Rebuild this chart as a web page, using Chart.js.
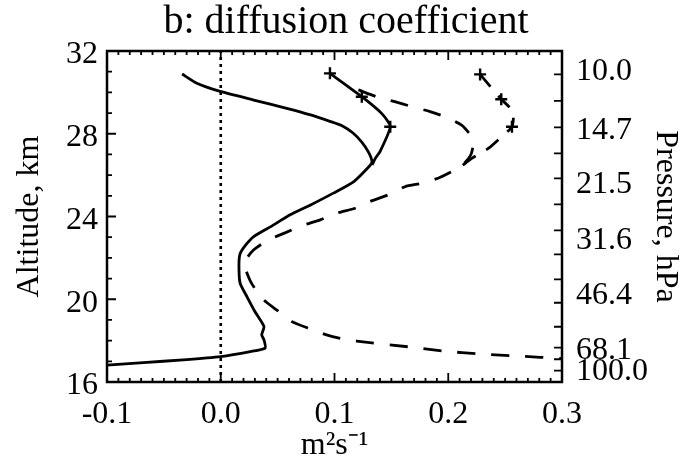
<!DOCTYPE html>
<html>
<head>
<meta charset="utf-8">
<script src="https://cdn.jsdelivr.net/npm/chart.js@4.4.1/dist/chart.umd.min.js"></script>
<style>
  html, body { margin: 0; padding: 0; background: #fff; }
</style>
</head>
<body>
<canvas id="chart" width="692" height="462"></canvas>
<script>
// solid profile: diffusion coefficient (m2/s) vs altitude (km)
const solidK = [-0.034, -0.021, -0.002, 0.029, 0.058, 0.079, 0.096, 0.107, 0.116, 0.124, 0.130, 0.133, 0.131,
  0.117, 0.099, 0.079, 0.061, 0.044, 0.029, 0.022, 0.017, 0.016, 0.017, 0.023, 0.030, 0.038, 0.036,
  0.038, 0.039, 0.026, 0.000, -0.033, -0.068, -0.1];
const solidAlt = [30.89, 30.44, 30.07, 29.63, 29.23, 28.91, 28.60, 28.38, 28.05, 27.60, 27.10, 26.65, 26.45,
  25.69, 25.13, 24.56, 24.08, 23.51, 23.03, 22.63, 22.20, 21.66, 20.78, 20.13, 19.41, 18.68, 18.28,
  18.04, 17.64, 17.47, 17.23, 17.07, 16.94, 16.82];

// solid profile, upper branch with measurement marks
const solidTopK = [0.096, 0.124, 0.142, 0.149, 0.140, 0.136, 0.133];
const solidTopAlt = [30.92, 29.79, 28.95, 28.34, 27.14, 26.82, 26.49];
const solidMarkK = [0.096, 0.124, 0.149];
const solidMarkAlt = [30.92, 29.79, 28.34];

// dashed profile
const dashK = [0.121, 0.137, 0.153, 0.168, 0.184, 0.199, 0.212, 0.220, 0.222, 0.220, 0.215, 0.209,
  0.193, 0.178, 0.162, 0.147, 0.131, 0.118, 0.102, 0.0875, 0.071, 0.057, 0.042, 0.029, 0.022,
  0.0216, 0.027, 0.0377, 0.049, 0.0626, 0.077, 0.093, 0.108, 0.131, 0.165, 0.195, 0.229, 0.262, 0.3];
const dashAlt = [30.12, 29.79, 29.55, 29.31, 29.07, 28.78, 28.40, 27.90, 27.50, 27.00, 26.62, 26.35,
  25.90, 25.62, 25.44, 25.04, 24.72, 24.40, 24.16, 23.84, 23.55, 23.22, 22.87, 22.39, 21.90,
  21.50, 20.78, 19.97, 19.49, 18.92, 18.60, 18.28, 18.07, 17.90, 17.70, 17.50, 17.35, 17.25, 17.14];

// dashed profile, upper branch with measurement marks
const dashTopK = [0.228, 0.2466, 0.257, 0.256, 0.247, 0.2355, 0.221, 0.215, 0.209];
const dashTopAlt = [30.87, 29.67, 29.07, 28.34, 27.86, 27.30, 26.82, 26.57, 26.35];
const dashMarkK = [0.228, 0.2466, 0.256];
const dashMarkAlt = [30.87, 29.67, 28.34];

// right axis: pressure labels and the altitudes they sit at
const pressureLabels = ['10.0', '14.7', '21.5', '31.6', '46.4', '68.1', '100.0'];
const pressureAlt = [30.99, 28.14, 25.53, 22.82, 20.16, 17.51, 16.49];
const pressureTickAlt = [30.87, 29.59, 28.31, 27.05, 25.84, 24.59, 23.33, 22.17, 20.96, 19.83,
  18.67, 17.66, 17.10, 16.55];

const zeroLineAlt = [16, 32];

function pts(xs, ys) {
  return xs.map((v, i) => ({ x: v, y: ys[i] }));
}

const serif = 'Liberation Serif';

const lineStyle = {
  showLine: true,
  pointRadius: 0,
  borderColor: '#000',
  backgroundColor: '#000',
  borderWidth: 2.8,
  tension: 0.2,
  yAxisID: 'y'
};

// inward ticks and box frame, like the original plot
const frameTicks = {
  id: 'frameTicks',
  afterDraw(chart) {
    const { ctx, chartArea: a, scales } = chart;
    const x = scales.x, y = scales.y, y2 = scales.y2;
    ctx.save();
    ctx.strokeStyle = '#000';
    ctx.lineWidth = 2.5;
    ctx.strokeRect(a.left, a.top, a.right - a.left, a.bottom - a.top);
    ctx.lineWidth = 1.8;
    ctx.beginPath();
    for (let i = 0; i <= 40; i++) {
      const px = x.getPixelForValue(-0.1 + i * 0.01);
      const len = i % 10 === 0 ? 9 : 4;
      ctx.moveTo(px, a.bottom); ctx.lineTo(px, a.bottom - len);
      ctx.moveTo(px, a.top); ctx.lineTo(px, a.top + len);
    }
    for (let k = 16; k <= 32; k++) {
      const py = y.getPixelForValue(k);
      const len = k % 4 === 0 ? 9 : 5;
      ctx.moveTo(a.left, py); ctx.lineTo(a.left + len, py);
    }
    for (const alt of pressureTickAlt) {
      const py = y2.getPixelForValue(alt);
      ctx.moveTo(a.right, py); ctx.lineTo(a.right - 8, py);
    }
    ctx.stroke();
    ctx.restore();
  }
};

new Chart(document.getElementById('chart'), {
  type: 'scatter',
  data: {
    datasets: [
      {
        label: 'zero',
        data: pts([0, 0], zeroLineAlt),
        ...lineStyle,
        borderWidth: 2.6,
        borderDash: [3, 4],
        tension: 0
      },
      { label: 'solid', data: pts(solidK, solidAlt), ...lineStyle },
      { label: 'solid top', data: pts(solidTopK, solidTopAlt), ...lineStyle },
      { label: 'dashed', data: pts(dashK, dashAlt), ...lineStyle, borderDash: [18, 16] },
      { label: 'dashed top', data: pts(dashTopK, dashTopAlt), ...lineStyle, borderDash: [16, 12] },
      {
        label: 'solid marks',
        data: pts(solidMarkK, solidMarkAlt),
        showLine: false,
        pointStyle: 'cross',
        pointRadius: 6,
        borderWidth: 2.4,
        borderColor: '#000',
        yAxisID: 'y'
      },
      {
        label: 'dashed marks',
        data: pts(dashMarkK, dashMarkAlt),
        showLine: false,
        pointStyle: 'cross',
        pointRadius: 6,
        borderWidth: 2.4,
        borderColor: '#000',
        yAxisID: 'y'
      }
    ]
  },
  options: {
    responsive: false,
    animation: false,
    layout: { padding: 0 },
    plugins: {
      legend: { display: false },
      tooltip: { enabled: false },
      title: {
        display: true,
        text: 'b: diffusion coefficient',
        color: '#000',
        font: { family: serif, size: 40, weight: 'normal', lineHeight: 1.1 },
        padding: { top: 0, bottom: 7 }
      }
    },
    scales: {
      x: {
        type: 'linear',
        min: -0.1,
        max: 0.3,
        afterFit: s => { s.height = 80; },
        grid: { display: false, drawTicks: false },
        border: { display: false },
        ticks: {
          stepSize: 0.1,
          padding: 13,
          color: '#000',
          font: { family: serif, size: 32 },
          callback: v => (Math.abs(v) < 1e-9 ? 0 : v).toFixed(1)
        },
        title: {
          display: true,
          text: 'm²s⁻¹',
          color: '#000',
          font: { family: serif, size: 32, lineHeight: 1 },
          padding: { top: 0, bottom: 0 }
        }
      },
      y: {
        type: 'linear',
        position: 'left',
        min: 16,
        max: 32,
        afterFit: s => { s.width = 107; },
        grid: { display: false, drawTicks: false },
        border: { display: false },
        ticks: {
          stepSize: 4,
          padding: 9,
          labelOffset: 4,
          color: '#000',
          font: { family: serif, size: 32 }
        },
        title: {
          display: true,
          text: 'Altitude, km',
          color: '#000',
          font: { family: serif, size: 32 },
          padding: { top: 10, bottom: 0 }
        }
      },
      y2: {
        type: 'linear',
        position: 'right',
        min: 16,
        max: 32,
        afterFit: s => { s.width = 130; },
        afterBuildTicks: s => { s.ticks = pressureAlt.map(v => ({ value: v })); },
        grid: { display: false, drawTicks: false },
        border: { display: false },
        ticks: {
          padding: 14,
          color: '#000',
          font: { family: serif, size: 32 },
          callback: (v, i) => pressureLabels[i]
        },
        title: {
          display: true,
          text: 'Pressure, hPa',
          color: '#000',
          font: { family: serif, size: 32 },
          padding: { top: 7, bottom: 0 }
        }
      }
    }
  },
  plugins: [frameTicks]
});
</script>
</body>
</html>
